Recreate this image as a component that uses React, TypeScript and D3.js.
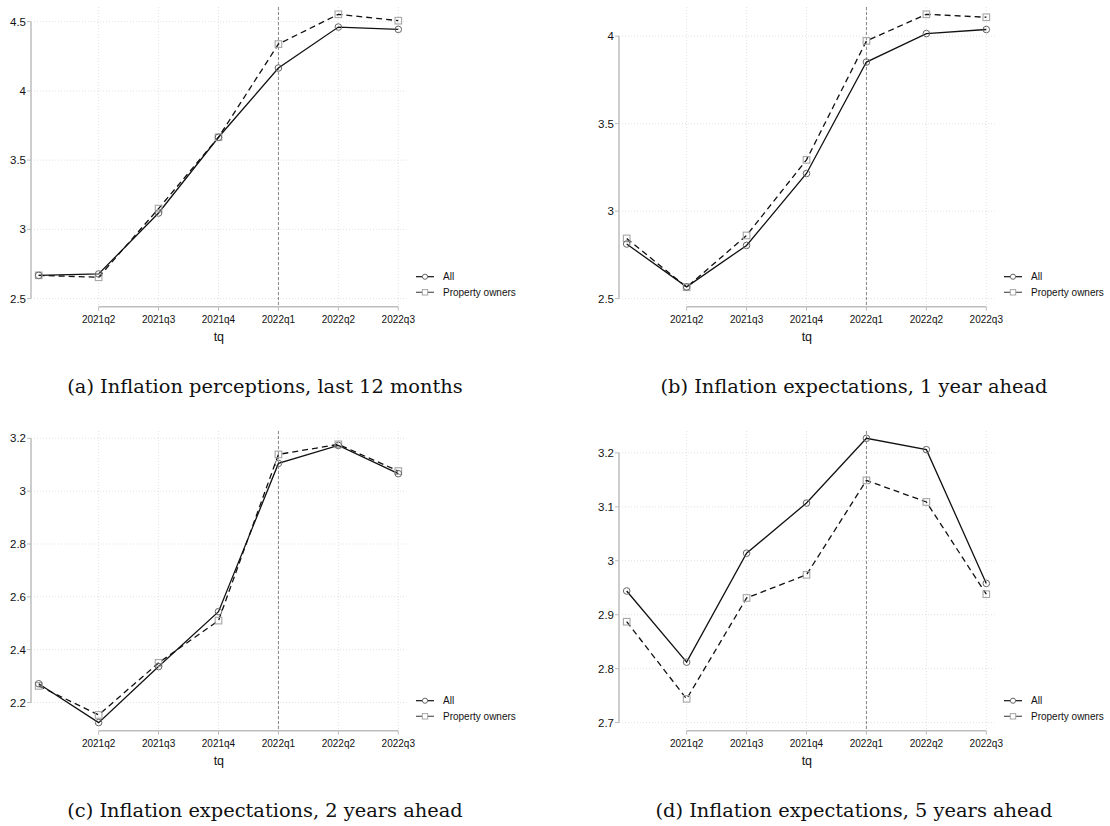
import React from "react";
import * as d3 from "d3";

const quarters = ["2021q1", "2021q2", "2021q3", "2021q4", "2022q1", "2022q2", "2022q3"];
const xTickQuarters = ["2021q2", "2021q3", "2021q4", "2022q1", "2022q2", "2022q3"];
const refQuarter = "2022q1";
const seriesNames = ["All", "Property owners"];

const allA = [2.668, 2.678, 3.118, 3.665, 4.165, 4.461, 4.444];
const ownersA = [2.668, 2.654, 3.15, 3.665, 4.338, 4.553, 4.507];
const ticksA = [2.5, 3, 3.5, 4, 4.5];

const allB = [2.812, 2.567, 2.804, 3.215, 3.852, 4.015, 4.038];
const ownersB = [2.844, 2.565, 2.861, 3.293, 3.973, 4.125, 4.108];
const ticksB = [2.5, 3, 3.5, 4];

const allC = [2.271, 2.124, 2.336, 2.544, 3.105, 3.173, 3.066];
const ownersC = [2.263, 2.153, 2.35, 2.51, 3.139, 3.177, 3.076];
const ticksC = [2.2, 2.4, 2.6, 2.8, 3, 3.2];

const allD = [2.944, 2.812, 3.014, 3.107, 3.227, 3.206, 2.958];
const ownersD = [2.887, 2.744, 2.931, 2.974, 3.149, 3.109, 2.938];
const ticksD = [2.7, 2.8, 2.9, 3, 3.1, 3.2];

const captions = [
  "(a) Inflation perceptions, last 12 months",
  "(b) Inflation expectations, 1 year ahead",
  "(c) Inflation expectations, 2 years ahead",
  "(d) Inflation expectations, 5 years ahead",
];

const panels = [
  { all: allA, owners: ownersA, ticks: ticksA, caption: captions[0], col: 0, row: 0 },
  { all: allB, owners: ownersB, ticks: ticksB, caption: captions[1], col: 1, row: 0 },
  { all: allC, owners: ownersC, ticks: ticksC, caption: captions[2], col: 0, row: 1 },
  { all: allD, owners: ownersD, ticks: ticksD, caption: captions[3], col: 1, row: 1 },
];

const W = 1110;
const H = 826;
const COL_DX = 588;
const ROW_DY = 424;
const SANS = "'Liberation Sans', Arial, Helvetica, sans-serif";
const SERIF = "'DejaVu Serif', 'Liberation Serif', serif";

function Panel({ p }: { p: any }) {
  const ox = p.col * COL_DX;
  const oy = p.row * ROW_DY;
  const axisX = 31;
  const plotRight = 406.7;
  const plotTop = 7;
  const xAxisY = 306.7;

  const x = d3.scalePoint<string>().domain(quarters).range([38.7, 398.3]);
  const lo = Math.min(d3.min(p.all as number[])!, d3.min(p.owners as number[])!, p.ticks[0]);
  const hi = Math.max(d3.max(p.all as number[])!, d3.max(p.owners as number[])!, p.ticks[p.ticks.length - 1]);
  const y = d3.scaleLinear().domain([lo, hi]).range([298.6, 14.3]);

  const line = d3
    .line<number>()
    .x((_, i) => x(quarters[i])!)
    .y((d) => y(d));

  const gridColor = "#d9d9d9";
  const axisColor = "#bdbdbd";

  return (
    <g transform={`translate(${ox},${oy})`}>
      {/* horizontal grid */}
      {p.ticks.map((t: number) => (
        <line key={"hg" + t} x1={axisX} x2={plotRight} y1={y(t)} y2={y(t)} stroke={gridColor} strokeWidth={0.8} strokeDasharray="1,2" />
      ))}
      {/* vertical grid */}
      {xTickQuarters.map((q) => (
        <line key={"vg" + q} x1={x(q)} x2={x(q)} y1={plotTop} y2={xAxisY} stroke={gridColor} strokeWidth={0.8} strokeDasharray="1,2" />
      ))}
      {/* reference line */}
      <line x1={x(refQuarter)} x2={x(refQuarter)} y1={plotTop} y2={xAxisY} stroke="#7a7a7a" strokeWidth={0.9} strokeDasharray="3,2" />
      {/* y axis */}
      <line x1={axisX} x2={axisX} y1={y(p.ticks[0])} y2={y(p.ticks[p.ticks.length - 1])} stroke={axisColor} strokeWidth={1.5} />
      {p.ticks.map((t: number) => (
        <g key={"yt" + t}>
          <line x1={axisX - 4} x2={axisX} y1={y(t)} y2={y(t)} stroke={axisColor} strokeWidth={1} />
          <text x={axisX - 5} y={y(t)} dy="0.35em" textAnchor="end" fontFamily={SANS} fontSize={11.5} fill="#111">
            {String(t)}
          </text>
        </g>
      ))}
      {/* x axis */}
      <line x1={x(xTickQuarters[0])} x2={x(xTickQuarters[xTickQuarters.length - 1])} y1={xAxisY} y2={xAxisY} stroke={axisColor} strokeWidth={1.5} />
      {xTickQuarters.map((q) => (
        <g key={"xt" + q}>
          <line x1={x(q)} x2={x(q)} y1={xAxisY} y2={xAxisY + 4} stroke={axisColor} strokeWidth={1} />
          <text x={x(q)} y={xAxisY + 16.5} textAnchor="middle" fontFamily={SANS} fontSize={10} fill="#111">
            {q}
          </text>
        </g>
      ))}
      <text x={(axisX + plotRight) / 2} y={xAxisY + 34.5} textAnchor="middle" fontFamily={SANS} fontSize={12.5} fill="#111">
        tq
      </text>
      {/* series lines */}
      <path d={line(p.owners)!} fill="none" stroke="#111" strokeWidth={1.3} strokeDasharray="6,4" />
      <path d={line(p.all)!} fill="none" stroke="#111" strokeWidth={1.3} />
      {p.owners.map((v: number, i: number) => (
        <rect key={"sq" + i} x={x(quarters[i])! - 3.3} y={y(v) - 3.3} width={6.6} height={6.6} fill="none" stroke="#a6a6a6" strokeWidth={1.1} />
      ))}
      {p.all.map((v: number, i: number) => (
        <circle key={"ci" + i} cx={x(quarters[i])!} cy={y(v)} r={3.3} fill="none" stroke="#666" strokeWidth={1} />
      ))}
      {/* legend */}
      <g>
        <line x1={416} x2={434} y1={276.7} y2={276.7} stroke="#111" strokeWidth={1.2} />
        <circle cx={425} cy={276.7} r={2.6} fill="white" stroke="#666" strokeWidth={1} />
        <text x={443} y={276.7} dy="0.35em" fontFamily={SANS} fontSize={10} fill="#111">
          {seriesNames[0]}
        </text>
        <line x1={416} x2={434} y1={292.3} y2={292.3} stroke="#555" strokeWidth={1.2} />
        <rect x={422.3} y={289.6} width={5.4} height={5.4} fill="white" stroke="#a6a6a6" strokeWidth={1} />
        <text x={443} y={292.3} dy="0.35em" fontFamily={SANS} fontSize={10} fill="#111">
          {seriesNames[1]}
        </text>
      </g>
      {/* caption */}
      <text x={265 + p.col * 1} y={393} textAnchor="middle" fontFamily={SERIF} fontSize={19.4} fill="#111">
        {p.caption}
      </text>
    </g>
  );
}

export default function App() {
  return (
    <div style={{ position: "absolute", left: 0, top: 0 }}>
      <svg width={W} height={H} viewBox={`0 0 ${W} ${H}`} style={{ display: "block", background: "white" }}>
        <rect x={0} y={0} width={W} height={H} fill="white" />
        {panels.map((p, i) => (
          <Panel key={i} p={p} />
        ))}
      </svg>
    </div>
  );
}
